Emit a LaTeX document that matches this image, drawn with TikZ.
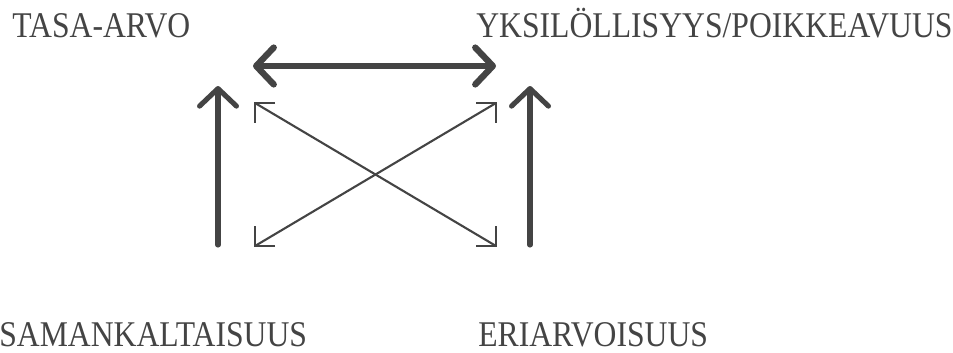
\documentclass[tikz,border=0pt]{standalone}
\usepackage{fontspec}
\newfontfamily\lblfont[FakeStretch=0.875]{Liberation Serif}
\usetikzlibrary{arrows.meta}
\definecolor{ink}{HTML}{444444}

\begin{document}
\begin{tikzpicture}[x=0.02cm,y=-0.02cm,
    barb/.tip={Straight Barb[length=10pt,width=21pt,round]},
    lbl/.style={anchor=base west,inner sep=0pt,text=ink,font=\lblfont\fontsize{20.6}{24}\selectfont},
    bigarrow/.style={draw=ink,line width=3.6pt,line cap=round,barb-barb},
    uparrow/.style={draw=ink,line width=2.9pt,line cap=round,-barb},
    cross/.style={draw=ink,line width=1.2pt}]
    \useasboundingbox (0,0) rectangle (953,352);

    \node (tasa) [lbl] at (12,37) {TASA-ARVO};
    \node (yks) [lbl] at (476,37) {YKSILÖLLISYYS/POIKKEAVUUS};
    \node (sam) [lbl] at (-1,346) {SAMANKALTAISUUS};
    \node (eri) [lbl] at (478,346) {ERIARVOISUUS};

    \coordinate (tl) at (255,103); \coordinate (tr) at (496,103);
    \coordinate (bl) at (255,246); \coordinate (br) at (496,246);
    \coordinate (ha) at (253,66); \coordinate (hb) at (496,66);
    \coordinate (la) at (218,245); \coordinate (lb) at (218,86);
    \coordinate (ra) at (530,245); \coordinate (rb) at (530,86);

    \draw[bigarrow] (ha) -- (hb);
    \draw[uparrow] (la) -- (lb);
    \draw[uparrow] (ra) -- (rb);

    \draw[cross] (tl) -- (br);
    \draw[cross] (tr) -- (bl);
    \foreach \c/\dx/\dy in {tl/1/1,tr/-1/1,bl/1/-1,br/-1/-1}
    \draw[cross] (\c) ++({\dx*20},0) -- (\c) -- ++(0,{\dy*20});
\end{tikzpicture}
\end{document}
